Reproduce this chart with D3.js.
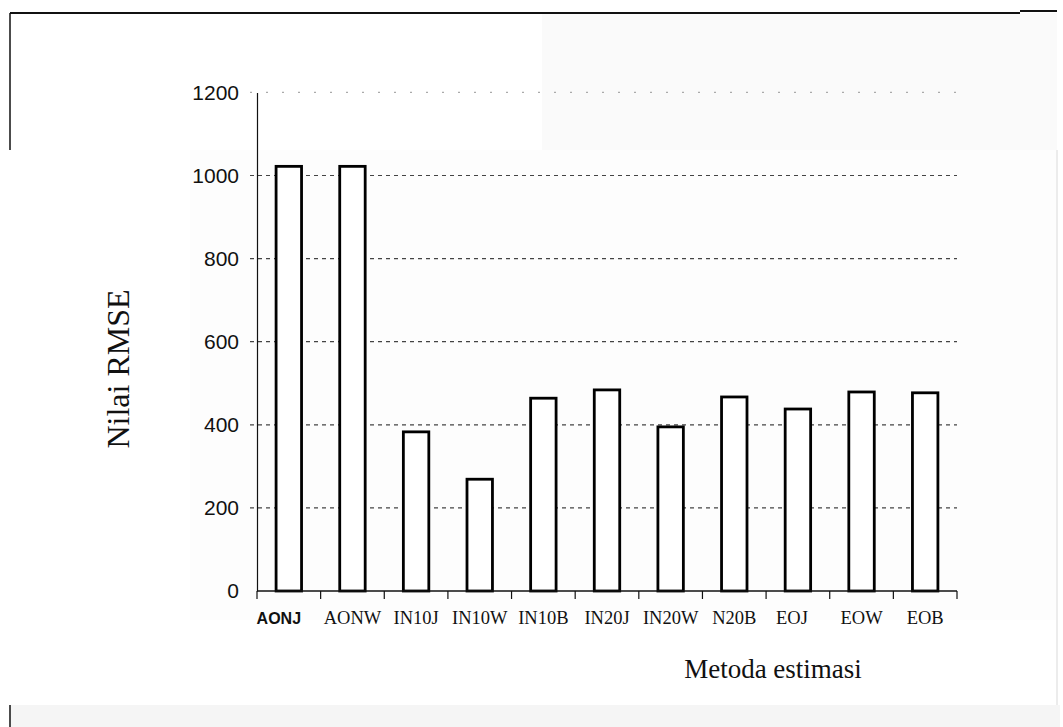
<!DOCTYPE html>
<html>
<head>
<meta charset="utf-8">
<script src="https://cdn.jsdelivr.net/npm/d3@7"></script>
<style>
  html, body { margin: 0; padding: 0; background: #fff; }
  svg { display: block; }
</style>
</head>
<body>
<svg id="chart" width="1063" height="727"></svg>
<script>
// RMSE per estimation method
const methods = ["AONJ", "AONW", "IN10J", "IN10W", "IN10B", "IN20J", "IN20W", "N20B", "EOJ", "EOW", "EOB"];
const rmse = [1022, 1022, 383, 269, 464, 484, 395, 467, 438, 479, 477];
const yTicks = [0, 200, 400, 600, 800, 1000, 1200];
const yTitle = "Nilai RMSE";
const xTitle = "Metoda estimasi";

const svg = d3.select("#chart");

// page tints and the outer frame
svg.append("rect").attr("x", 542).attr("y", 13).attr("width", 515).attr("height", 137).attr("fill", "#fafafa");
svg.append("rect").attr("x", 190).attr("y", 150).attr("width", 867).attr("height", 470).attr("fill", "#fdfdfd");
svg.append("rect").attr("x", 10).attr("y", 705).attr("width", 1050).attr("height", 22).attr("fill", "#f5f5f5");
const frame = svg.append("g").attr("stroke", "#111").attr("fill", "none");
frame.append("path").attr("d", "M10,13H1020").attr("stroke-width", 2);
frame.append("path").attr("d", "M1020,11H1057").attr("stroke-width", 2);
frame.append("path").attr("d", "M10,13V150").attr("stroke-width", 1.5);
frame.append("path").attr("d", "M10,705V727").attr("stroke-width", 1.5);
frame.append("path").attr("d", "M1057,150V705").attr("stroke", "#ececec").attr("stroke-width", 2);

const plot = { left: 257, right: 957, top: 92.4, bottom: 591 };

const x = d3.scaleBand()
  .domain(methods)
  .range([plot.left, plot.right])
  .paddingInner(0.6)
  .paddingOuter(0.3);

const y = d3.scaleLinear()
  .domain([0, 1200])
  .range([plot.bottom, plot.top]);

// horizontal gridlines
const grid = svg.append("g");
grid.selectAll("line")
  .data(yTicks.filter(d => d > 0))
  .join("line")
  .attr("x1", plot.left - 7)
  .attr("x2", plot.right)
  .attr("y1", d => y(d))
  .attr("y2", d => y(d))
  .attr("stroke", d => d === 1200 ? "#aaa" : "#444")
  .attr("stroke-width", 1.2)
  .attr("stroke-dasharray", d => d === 1200 ? "2,14" : "4,4");

// bars
svg.append("g")
  .selectAll("rect")
  .data(methods.map((m, i) => ({ m, v: rmse[i] })))
  .join("rect")
  .attr("x", d => x(d.m))
  .attr("width", x.bandwidth())
  .attr("y", d => y(d.v))
  .attr("height", d => y(0) - y(d.v))
  .attr("fill", "#fff")
  .attr("stroke", "#000")
  .attr("stroke-width", 2.8);

// y axis
const yAxis = svg.append("g")
  .attr("transform", `translate(${plot.left},0)`)
  .call(d3.axisLeft(y).tickValues(yTicks).tickFormat(d3.format("d")).tickSize(0).tickPadding(18));
yAxis.select(".domain").attr("stroke", "#111").attr("stroke-width", 1.2);
yAxis.selectAll("text")
  .attr("font-family", "Liberation Sans, Arial, sans-serif")
  .attr("font-size", 21)
  .attr("fill", "#111");

// x axis: ticks sit on the category boundaries
const step = x.step();
const bounds = d3.range(methods.length + 1).map(i => plot.left + i * step);
const xAxis = svg.append("g");
xAxis.append("line")
  .attr("x1", plot.left).attr("x2", plot.right)
  .attr("y1", plot.bottom).attr("y2", plot.bottom)
  .attr("stroke", "#111").attr("stroke-width", 1.4);
xAxis.selectAll(".tick")
  .data(bounds)
  .join("line")
  .attr("class", "tick")
  .attr("x1", d => d).attr("x2", d => d)
  .attr("y1", plot.bottom).attr("y2", plot.bottom + 8)
  .attr("stroke", "#111").attr("stroke-width", 1.2);

xAxis.selectAll("text")
  .data(methods)
  .join("text")
  .attr("x", d => x(d) + x.bandwidth() / 2 + (d === "AONJ" ? -10 : d === "EOJ" ? -6 : 0))
  .attr("y", 624)
  .attr("text-anchor", "middle")
  .attr("font-family", d => d === "AONJ" ? "Liberation Sans, Arial, sans-serif" : "Liberation Serif, Times New Roman, serif")
  .attr("font-weight", d => d === "AONJ" ? "bold" : "normal")
  .attr("font-size", d => d === "AONJ" ? 16 : 18.5)
  .attr("fill", "#111")
  .text(d => d);

// axis titles
svg.append("text")
  .attr("transform", `translate(129,369) rotate(-90)`)
  .attr("text-anchor", "middle")
  .attr("font-family", "Liberation Serif, Times New Roman, serif")
  .attr("font-size", 32)
  .attr("fill", "#111")
  .text(yTitle);

svg.append("text")
  .attr("x", 773)
  .attr("y", 678)
  .attr("text-anchor", "middle")
  .attr("font-family", "Liberation Serif, Times New Roman, serif")
  .attr("font-size", 27)
  .attr("fill", "#111")
  .text(xTitle);
</script>
</body>
</html>
